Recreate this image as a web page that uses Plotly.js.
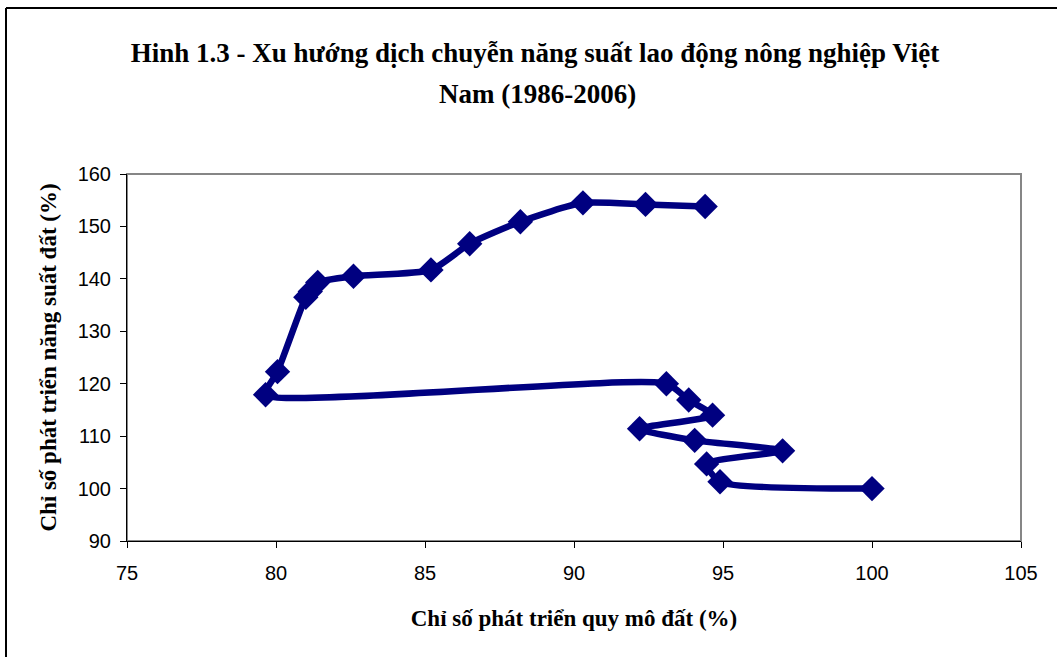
<!DOCTYPE html>
<html>
<head>
<meta charset="utf-8">
<script src="https://cdn.plot.ly/plotly-3.0.1.min.js"></script>
<style>html,body{margin:0;padding:0;background:#fff;}#chart{width:1057px;height:657px;}</style>
</head>
<body>
<div id="chart"></div>
<script>
// Data (1986 -> 2006)
const years = [1986,1987,1988,1989,1990,1991,1992,1993,1994,1995,1996,1997,1998,1999,2000,2001,2002,2003,2004,2005,2006];
const landScale = [100.0, 94.9, 94.45, 97.0, 94.05, 92.2, 94.65, 93.85, 93.1, 79.65, 80.05, 81.0, 81.15, 81.4, 82.6, 85.2, 86.5, 88.2, 90.3, 92.4, 94.4];
const landProductivity = [100.0, 101.3, 104.7, 107.2, 109.2, 111.4, 114.0, 116.9, 120.0, 117.9, 122.3, 136.5, 137.6, 139.3, 140.5, 141.7, 146.7, 150.9, 154.5, 154.2, 153.8];
const xTicks = [75, 80, 85, 90, 95, 100, 105];
const yTicks = [90, 100, 110, 120, 130, 140, 150, 160];

const W = 1057, H = 657, L = 127, R = 36, T = 174, B = 116;
const pw = W - L - R, ph = H - T - B;
const px = v => (v - L) / pw;
const py = v => (H - B - v) / ph;

const trace = {
  x: landScale, y: landProductivity, text: years,
  type: 'scatter', mode: 'lines+markers',
  line: {color: '#000080', width: 6.5, shape: 'spline', smoothing: 0.6},
  marker: {symbol: 'diamond', size: 19.5, color: '#000080'},
  hoverinfo: 'text+x+y', showlegend: false
};

const serif = 'Liberation Serif, Times New Roman, serif';
const sans = 'Liberation Sans, Arial, sans-serif';

const layout = {
  width: W, height: H,
  margin: {l: L, r: R, t: T, b: B},
  paper_bgcolor: '#fff', plot_bgcolor: '#fff',
  title: {text: 'Hinh 1.3 - Xu hướng dịch chuyễn năng suất lao động nông nghiệp Việt',
          font: {family: serif, size: 27, color: '#000', weight: 'bold'},
          x: 535 / W, xref: 'container', xanchor: 'center', y: 1 - 53/H, yanchor: 'middle', yref: 'container'},
  annotations: [{text: '<b>Nam (1986-2006)</b>', xref: 'paper', yref: 'paper',
                 x: px(537), y: py(94), xanchor: 'center', yanchor: 'middle', showarrow: false,
                 font: {family: serif, size: 27, color: '#000'}}],
  xaxis: {range: [75, 105], tickvals: xTicks, ticktext: xTicks.map(String), showgrid: false, zeroline: false,
          showline: true, linecolor: '#000', linewidth: 1, ticks: 'outside', ticklen: 6, tickcolor: '#000',
          ticklabelstandoff: 8,
          tickfont: {family: sans, size: 20, color: '#000'},
          title: {text: 'Chỉ số phát triển quy mô đất (%)', standoff: 26,
                  font: {family: serif, size: 23, color: '#000', weight: 'bold'}}},
  yaxis: {range: [90, 160], tickvals: yTicks, ticktext: yTicks.map(String), showgrid: false, zeroline: false,
          showline: true, linecolor: '#000', linewidth: 1, ticks: 'outside', ticklen: 6, tickcolor: '#000',
          ticklabelstandoff: 5,
          tickfont: {family: sans, size: 20, color: '#000'},
          title: {text: 'Chỉ số phát triển năng suất đất (%)', standoff: 14,
                  font: {family: serif, size: 23, color: '#000', weight: 'bold'}}},
  shapes: [
    {type: 'rect', xref: 'paper', yref: 'paper', x0: 0, x1: 1, y0: 0, y1: 1,
     line: {color: '#868686', width: 2}, layer: 'below'},
    {type: 'line', xref: 'paper', yref: 'paper', x0: px(6), x1: px(W + 5), y0: py(8), y1: py(8),
     line: {color: '#000', width: 2}},
    {type: 'line', xref: 'paper', yref: 'paper', x0: px(6), x1: px(6), y0: py(8), y1: py(H + 5),
     line: {color: '#000', width: 2}}
  ]
};

Plotly.newPlot('chart', [trace], layout, {displayModeBar: false, staticPlot: true});
</script>
</body>
</html>
